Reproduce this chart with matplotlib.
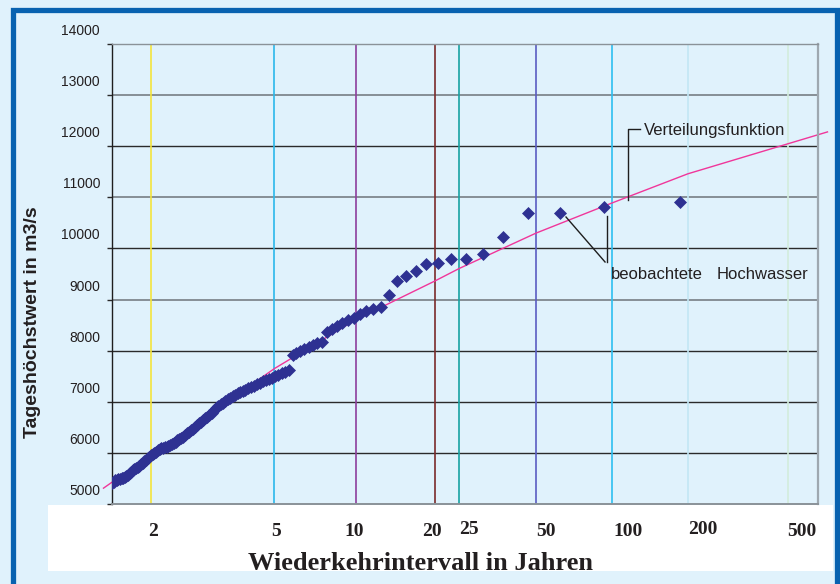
import numpy as np
import matplotlib
matplotlib.use("Agg")
import matplotlib.pyplot as plt
from matplotlib.patches import Rectangle
from matplotlib.transforms import ScaledTranslation, blended_transform_factory

# annual flood peaks (daily maximum, m3/s), ranked largest first
n_years = 185
peaks = [10900, 10810, 10700, 10700, 10230, 9890, 9800, 9800, 9710, 9690,
         9550, 9470, 9370, 9080, 8850, 8820, 8770, 8720, 8640, 8600,
         8540, 8480, 8420, 8370, 8170, 8150, 8110, 8070, 8030, 7990,
         7950, 7920, 7620, 7590, 7560, 7530, 7500, 7470, 7440, 7420,
         7400, 7370, 7340, 7310, 7290, 7270, 7240, 7210, 7190, 7170,
         7140, 7110, 7080, 7050, 7020, 6980, 6950, 6920, 6880, 6840,
         6780, 6740, 6710, 6680, 6640, 6610, 6590, 6550, 6510, 6470,
         6440, 6410, 6380, 6350, 6320, 6300, 6280, 6250, 6220, 6190,
         6170, 6150, 6140, 6120, 6110, 6100, 6090, 6080, 6050, 6020,
         6000, 5970, 5950, 5920, 5900, 5870, 5840, 5810, 5780, 5750,
         5720, 5700, 5690, 5660, 5630, 5600, 5570, 5540, 5520, 5510,
         5500, 5490, 5480, 5470, 5460, 5440, 5420]

# fitted distribution function
fit_T = [1.52, 2, 5, 10, 20, 25, 50, 100, 200, 720]
fit_Q = [5310, 5960, 7650, 8610, 9360, 9610, 10300, 10890, 11460, 12280]

t_ticks = [2, 5, 10, 20, 25, 50, 100, 200, 500]
t_colors = ["#f4e43c", "#2bb8ea", "#8c3f9c", "#7a2b2b", "#17a2a2",
            "#5a5cc2", "#2dbff0", "#c2e6f4", "#d2ecdc"]
q_ticks = list(range(5000, 14001, 1000))

BG = "#e0f2fc"
TXT = "#231f20"


def gumbel(T):
    T = np.asarray(T, dtype=float)
    with np.errstate(all="ignore"):
        return -np.log(-np.log(1.0 - 1.0 / T))


def gumbel_inv(u):
    u = np.asarray(u, dtype=float)
    with np.errstate(all="ignore"):
        return 1.0 / (1.0 - np.exp(-np.exp(-u)))


ranks = np.arange(1, len(peaks) + 1)
T_obs = (n_years + 1) / ranks

fig = plt.figure(figsize=(8.4, 5.84), dpi=100, facecolor=BG)

# white strip under the plot for the axis labels
fig.patches.append(Rectangle((48 / 840, 13 / 584), 785 / 840, 66 / 584,
                             transform=fig.transFigure, facecolor="white",
                             edgecolor="none", zorder=-2))
# blue frame
fig.patches.append(Rectangle((12.5 / 840, -0.1), 824 / 840, 1.1 - 10.5 / 584,
                             transform=fig.transFigure, facecolor="none",
                             edgecolor="#0862b0", linewidth=3.8, zorder=-1))

ax = fig.add_axes([112 / 840, 80 / 584, 706 / 840, 460 / 584])
ax.set_facecolor(BG)
ax.set_xscale("function", functions=(gumbel, gumbel_inv))
ax.set_xlim(1.5894, 660)
ax.set_ylim(5000, 14000)

# horizontal grid
for q in q_ticks[1:-1]:
    if q in (9000, 11000, 13000):
        ax.axhline(q, color="#7f878e", lw=1.3, zorder=1)
    else:
        ax.axhline(q, color="#2a2a2a", lw=1.0, zorder=1)

# coloured return-period lines
for t, c in zip(t_ticks, t_colors):
    ax.axvline(t, color=c, lw=1.2, zorder=1.5)

ax.plot(fit_T, fit_Q, color="#f0369a", lw=1.0, zorder=2, clip_on=False)
ax.plot(T_obs, peaks, linestyle="none", marker="D", ms=5.8, color="#2e3192",
        mec="#2e3192", mew=0.5, zorder=3)

for side in ("top", "bottom", "right"):
    ax.spines[side].set_color("#8a9298")
ax.spines["top"].set_linewidth(1.0)
ax.spines["bottom"].set_linewidth(1.4)
ax.spines["right"].set_color("#9ea8b0")
ax.spines["right"].set_linewidth(1.6)
ax.spines["left"].set_color("#1e1e1e")
ax.spines["left"].set_linewidth(1.0)

ax.set_xticks(t_ticks)
ax.set_yticks(q_ticks)
ax.tick_params(axis="x", length=0, labelbottom=False)
ax.tick_params(axis="y", direction="out", length=3.6, width=1.0,
               color="#2a2a2a", labelleft=False)
ax.minorticks_off()

# tick labels
ytr = blended_transform_factory(ax.transAxes, ax.transData)
for q in q_ticks:
    ax.text(0, q, str(q), transform=ytr + ScaledTranslation(-0.12, 0.09, fig.dpi_scale_trans),
            ha="right", va="baseline", fontsize=10, family="Liberation Sans",
            color=TXT)

xtr = blended_transform_factory(ax.transData, ax.transAxes)
x_shift = [2, 2, -2, -3, 10, 10, 16, 15, 14]
y_shift = [-32, -32, -32, -32, -30, -32, -32, -30, -32]
for t, dx, dy in zip(t_ticks, x_shift, y_shift):
    ax.text(t, 0, str(t), transform=xtr + ScaledTranslation(dx / 100, dy / 100, fig.dpi_scale_trans),
            ha="center", va="baseline", fontsize=14, fontweight="bold",
            family="Liberation Serif", color=TXT, clip_on=False)

fig.text(421 / 840, 1 - 563 / 584, "Wiederkehrintervall in Jahren",
         ha="center", va="center", fontsize=19, fontweight="bold",
         family="Liberation Serif", color=TXT)
fig.text(33 / 840, 1 - 322 / 584, "Tageshöchstwert in m3/s", rotation=90,
         ha="center", va="center", fontsize=14, fontweight="bold",
         family="Liberation Sans", color=TXT)

# annotations
ax.plot([129.1, 115.7, 115.7], [12340, 12340, 10950], color="#1e1e1e",
        lw=1.0, zorder=4, clip_on=False)
ax.text(134, 12220, "Verteilungsfunktion", ha="left", va="baseline",
        fontsize=12, family="Liberation Sans", color=TXT)
ax.plot([65.7, 93.8], [10615, 9735], color="#1e1e1e", lw=1.0, zorder=4)
ax.plot([95.5, 95.5], [10635, 9735], color="#1e1e1e", lw=1.0, zorder=4)
ax.text(99, 9400, "beobachtete", ha="left", va="baseline",
        fontsize=12, family="Liberation Sans", color=TXT)
ax.text(261, 9400, "Hochwasser", ha="left", va="baseline",
        fontsize=12, family="Liberation Sans", color=TXT)

fig.savefig("out.png", dpi=100, facecolor=BG)
